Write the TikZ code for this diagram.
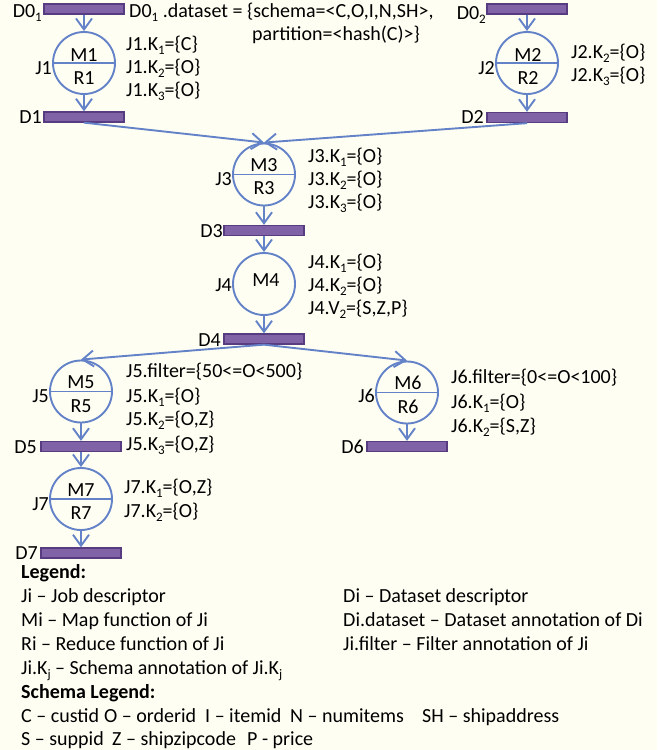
\documentclass[tikz,border=0pt]{standalone}
\usepackage{fontspec}
\setmainfont{Carlito}
\usetikzlibrary{arrows.meta}
\definecolor{bgc}{RGB}{254,254,243}
\definecolor{lineblue}{RGB}{100,130,200}
\definecolor{barfill}{RGB}{128,98,166}
\definecolor{bardark}{RGB}{88,60,130}
\newcommand\sbs[1]{\raisebox{-4pt}{\fontsize{13}{13}\selectfont #1}}
\begin{document}
\begin{tikzpicture}[x=1pt,y=-1pt,
  every node/.style={font=\fontsize{20}{24}\selectfont},
  bar/.style={rectangle, draw=bardark, fill=barfill, line width=1.3pt, minimum width=80pt, minimum height=10pt, inner sep=0pt},
  jobc/.style={circle, draw=lineblue, line width=1.9pt, minimum size=62pt, inner sep=0pt},
  conn/.style={draw=lineblue, line width=1.9pt, -{Straight Barb[length=11pt,width=16pt]}},
  divl/.style={draw=lineblue, line width=1.9pt},
  lw/.style={inner sep=0pt, anchor=base west},
  le/.style={inner sep=0pt, anchor=base east},
  lc/.style={inner sep=0pt, anchor=base},
]
\fill[bgc] (0,0) rectangle (657,750);
\useasboundingbox (0,0) rectangle (657,750);

% dataset bars
\node[bar] (D01) at (84,9) {};
\node[bar] (D02) at (527,9) {};
\node[bar] (D1) at (84,117) {};
\node[bar] (D2) at (527,117.5) {};
\node[bar] (D3) at (264,230.5) {};
\node[bar] (D4) at (264,339) {};
\node[bar] (D5) at (81,446.5) {};
\node[bar] (D6) at (407,446.5) {};
\node[bar] (D7) at (81,553) {};

% job circles
\node[jobc] (J1) at (84,63) {};
\node[jobc] (J2) at (527,63) {};
\node[jobc] (J3) at (264,174.5) {};
\node[jobc] (J4) at (264,284) {};
\node[jobc] (J5) at (81,391.5) {};
\node[jobc] (J6) at (407,392.5) {};
\node[jobc] (J7) at (81,499) {};

\draw[divl] (J1.west) -- (J1.east);
\draw[divl] (J2.west) -- (J2.east);
\draw[divl] (J3.west) -- (J3.east);
\draw[divl] (J5.west) -- (J5.east);
\draw[divl] (J6.west) -- (J6.east);
\draw[divl] (J7.west) -- (J7.east);

% connectors
\draw[conn] (D01.south) -- (J1.north);
\draw[conn] (J1.south) -- (D1.north);
\draw[conn] (D02.south) -- (J2.north);
\draw[conn] (J2.south) -- (D2.north);
\draw[conn] (D1.south) -- (J3.north);
\draw[conn] (D2.south) -- (J3.north);
\draw[conn] (J3.south) -- (D3.north);
\draw[conn] (D3.south) -- (J4.north);
\draw[conn] (J4.south) -- (D4.north);
\draw[conn] (D4.south) -- (J5.north);
\draw[conn] (D4.south) -- (J6.north);
\draw[conn] (J5.south) -- (D5.north);
\draw[conn] (D5.south) -- (J7.north);
\draw[conn] (J7.south) -- (D7.north);
\draw[conn] (J6.south) -- (D6.north);

% circle texts
\node[lc] (m1) at (84,61) {M1};
\node[lc] (r1) at (84,84) {R1};
\node[lc] (m2) at (528,61) {M2};
\node[lc] (r2) at (528,84) {R2};
\node[lc] (m3) at (264,171) {M3};
\node[lc] (r3) at (264,194) {R3};
\node[lc] (m4) at (266,286) {M4};
\node[lc] (m5) at (81,388) {M5};
\node[lc] (r5) at (81,412) {R5};
\node[lc] (m6) at (408,389) {M6};
\node[lc] (r6) at (408,413) {R6};
\node[lc] (m7) at (81,496) {M7};
\node[lc] (r7) at (81,519) {R7};

% dataset labels
\node[le] (lD01) at (42,17) {D0\sbs{1}};
\node[le] (lD02) at (486,19) {D0\sbs{2}};
\node[le] (lD1) at (42,123) {D1};
\node[le] (lD2) at (484,123) {D2};
\node[le] (lD3) at (223,237) {D3};
\node[le] (lD4) at (221,346) {D4};
\node[le] (lD5) at (37,453) {D5};
\node[le] (lD6) at (364,453) {D6};
\node[le] (lD7) at (38,559) {D7};

% job labels
\node[le] (lJ1) at (52,74) {J1};
\node[le] (lJ2) at (495,74) {J2};
\node[le] (lJ3) at (232,185) {J3};
\node[le] (lJ4) at (232,291) {J4};
\node[le] (lJ5) at (49,402) {J5};
\node[le] (lJ6) at (375,402) {J6};
\node[le] (lJ7) at (49,510) {J7};

% annotations
\node[lw] (ds1) at (129,17) {D0\sbs{1} .dataset = \{schema=<C,O,I,N,SH>,};
\node[lw] (ds2) at (252,40) {partition=<hash(C)>\}};
\node[lw] (a11) at (126,50) {J1.K\sbs{1}=\{C\}};
\node[lw] (a12) at (126,73) {J1.K\sbs{2}=\{O\}};
\node[lw] (a13) at (126,96) {J1.K\sbs{3}=\{O\}};
\node[lw] (a22) at (571,58) {J2.K\sbs{2}=\{O\}};
\node[lw] (a23) at (571,81) {J2.K\sbs{3}=\{O\}};
\node[lw] (a31) at (308,162) {J3.K\sbs{1}=\{O\}};
\node[lw] (a32) at (308,185) {J3.K\sbs{2}=\{O\}};
\node[lw] (a33) at (308,208) {J3.K\sbs{3}=\{O\}};
\node[lw] (a41) at (308,268) {J4.K\sbs{1}=\{O\}};
\node[lw] (a42) at (308,291) {J4.K\sbs{2}=\{O\}};
\node[lw] (a43) at (308,314) {J4.V\sbs{2}=\{S,Z,P\}};
\node[lw] (a5f) at (126,377) {J5.filter=\{50<=O<500\}};
\node[lw] (a51) at (126,402) {J5.K\sbs{1}=\{O\}};
\node[lw] (a52) at (126,425) {J5.K\sbs{2}=\{O,Z\}};
\node[lw] (a53) at (126,450) {J5.K\sbs{3}=\{O,Z\}};
\node[lw] (a6f) at (451,383) {J6.filter=\{0<=O<100\}};
\node[lw] (a61) at (451,408) {J6.K\sbs{1}=\{O\}};
\node[lw] (a62) at (451,432) {J6.K\sbs{2}=\{S,Z\}};
\node[lw] (a71) at (124,493) {J7.K\sbs{1}=\{O,Z\}};
\node[lw] (a72) at (124,517) {J7.K\sbs{2}=\{O\}};

% legend
\node[lw] (lg0) at (21,578) {\textbf{Legend:}};
\node[lw] (lg1) at (21,602) {Ji – Job descriptor};
\node[lw] (lg2) at (21,626) {Mi – Map function of Ji};
\node[lw] (lg3) at (21,650) {Ri – Reduce function of Ji};
\node[lw] (lg4) at (21,674) {Ji.K\sbs{j} – Schema annotation of Ji.K\sbs{j}};
\node[lw] (lg5) at (21,698) {\textbf{Schema Legend:}};
\node[lw] (sc1) at (21,722) {C – custid};
\node[lw] (sc2) at (104,722) {O – orderid};
\node[lw] (sc3) at (205,722) {I – itemid};
\node[lw] (sc4) at (290,722) {N – numitems};
\node[lw] (sc5) at (422,722) {SH – shipaddress};
\node[lw] (ss1) at (21,745) {S – suppid};
\node[lw] (ss2) at (112,745) {Z – shipzipcode};
\node[lw] (ss3) at (247,745) {P - price};
\node[lw] (rg1) at (343,602) {Di – Dataset descriptor};
\node[lw] (rg2) at (343,626) {Di.dataset – Dataset annotation of Di};
\node[lw] (rg3) at (343,650) {Ji.filter – Filter annotation of Ji};
\end{tikzpicture}
\end{document}
